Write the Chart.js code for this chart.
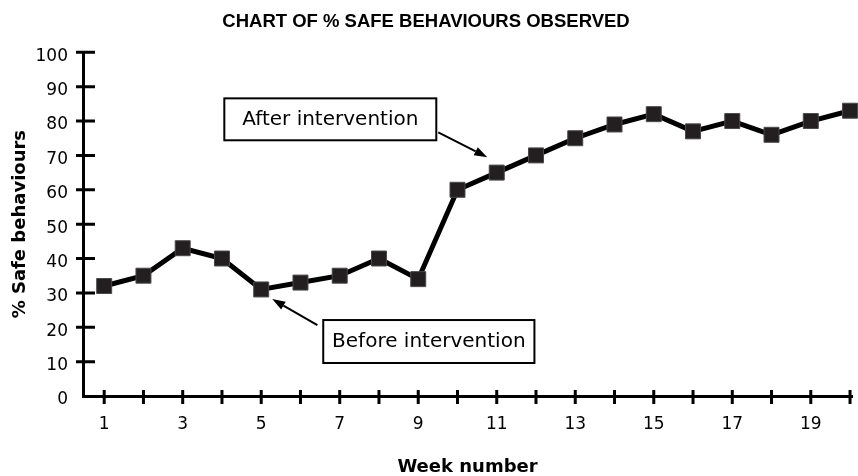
<!DOCTYPE html>
<html>
<head>
<meta charset="utf-8">
<title>Safe behaviours observed</title>
<script src="https://cdn.jsdelivr.net/npm/chart.js@4.4.0/dist/chart.umd.min.js"></script>
<style>
  html, body { margin: 0; padding: 0; background: #fff; }
  #wrap { width: 858px; height: 476px; position: relative; }
</style>
</head>
<body>
<div id="wrap"><canvas id="safetyChart"></canvas></div>
<script>
// Weekly observations
const weeks = [1, 2, 3, 4, 5, 6, 7, 8, 9, 10, 11, 12, 13, 14, 15, 16, 17, 18, 19, 20];
const safePct = [32, 35, 43, 40, 31, 33, 35, 40, 34, 60, 65, 70, 75, 79, 82, 77, 80, 76, 80, 83];
const yTickValues = [0, 10, 20, 30, 40, 50, 60, 70, 80, 90, 100];
const labelledWeeks = [1, 3, 5, 7, 9, 11, 13, 15, 17, 19];

// Callout boxes, given in data units (week, %)
const callouts = [
    { text: 'After intervention', box: [4.06, 86.6, 9.46, 74.4], from: [9.51, 76.7], to: [10.76, 69.5] },
    { text: 'Before intervention', box: [6.58, 22.1, 11.96, 9.6], from: [6.43, 20.6], to: [5.28, 28.2] }
];

const tickFont = { family: '"DejaVu Sans", sans-serif', size: 17 };
const boldAxisFont = { family: '"DejaVu Sans", sans-serif', size: 18, weight: 'bold', lineHeight: 1 };

// Tick marks that cross the axis lines
const crossTicks = {
    id: 'crossTicks',
    afterDraw(chart) {
        const { ctx, scales: { x, y } } = chart;
        ctx.save();
        ctx.strokeStyle = '#000';
        ctx.lineWidth = 3;
        ctx.beginPath();
        yTickValues.forEach(v => {
            if (v === 0) return;
            const py = y.getPixelForValue(v);
            ctx.moveTo(x.left - 7, py);
            ctx.lineTo(x.left + 12, py);
        });
        weeks.forEach(w => {
            const px = x.getPixelForValue(w);
            ctx.moveTo(px, y.bottom - 6);
            ctx.lineTo(px, y.bottom + 8);
        });
        ctx.stroke();
        ctx.restore();
    }
};

// Labelled boxes with arrows pointing at the series
const calloutPlugin = {
    id: 'callouts',
    afterDatasetsDraw(chart) {
        const { ctx, scales: { x, y } } = chart;
        ctx.save();
        callouts.forEach(c => {
            const x0 = x.getPixelForValue(c.box[0]);
            const y0 = y.getPixelForValue(c.box[1]);
            const x1 = x.getPixelForValue(c.box[2]);
            const y1 = y.getPixelForValue(c.box[3]);
            ctx.fillStyle = '#fff';
            ctx.fillRect(x0, y0, x1 - x0, y1 - y0);
            ctx.strokeStyle = '#000';
            ctx.lineWidth = 2;
            ctx.strokeRect(x0, y0, x1 - x0, y1 - y0);
            ctx.fillStyle = '#000';
            ctx.font = '20px "DejaVu Sans", sans-serif';
            ctx.textAlign = 'center';
            ctx.textBaseline = 'middle';
            ctx.fillText(c.text, (x0 + x1) / 2, (y0 + y1) / 2);

            // arrow shaft and head
            const fx = x.getPixelForValue(c.from[0]);
            const fy = y.getPixelForValue(c.from[1]);
            const tx = x.getPixelForValue(c.to[0]);
            const ty = y.getPixelForValue(c.to[1]);
            const ang = Math.atan2(ty - fy, tx - fx);
            const headLen = 13, headW = 4.5;
            ctx.lineWidth = 2;
            ctx.beginPath();
            ctx.moveTo(fx, fy);
            ctx.lineTo(tx - Math.cos(ang) * headLen, ty - Math.sin(ang) * headLen);
            ctx.stroke();
            ctx.beginPath();
            ctx.moveTo(tx, ty);
            ctx.lineTo(tx - Math.cos(ang) * headLen - Math.sin(ang) * headW,
                       ty - Math.sin(ang) * headLen + Math.cos(ang) * headW);
            ctx.lineTo(tx - Math.cos(ang) * headLen + Math.sin(ang) * headW,
                       ty - Math.sin(ang) * headLen - Math.cos(ang) * headW);
            ctx.closePath();
            ctx.fill();
        });
        ctx.restore();
    }
};

const ctx = document.getElementById('safetyChart').getContext('2d');
const safetyChart = new Chart(ctx, {
    type: 'line',
    data: {
        datasets: [{
            label: '% Safe behaviours',
            data: weeks.map((w, i) => ({ x: w, y: safePct[i] })),
            borderColor: '#000',
            borderWidth: 5,
            backgroundColor: '#231f20',
            pointStyle: 'rect',
            pointRadius: 10.6,
            pointBackgroundColor: '#231f20',
            pointBorderColor: '#4a4a4a',
            pointBorderWidth: 1,
            tension: 0,
            clip: false
        }]
    },
    options: {
        responsive: true,
        maintainAspectRatio: false,
        animation: false,
        layout: { autoPadding: false, padding: { left: 0, right: 6, top: 0, bottom: 0 } },
        scales: {
            x: {
                type: 'linear',
                min: 0.46,
                max: 20.05,
                afterBuildTicks: scale => {
                    scale.ticks = weeks.map(w => ({ value: w }));
                },
                afterFit: scale => {
                    scale.height = 80;
                    scale.paddingLeft = 0;
                    scale.paddingRight = 0;
                },
                ticks: {
                    autoSkip: false,
                    maxRotation: 0,
                    padding: 18,
                    color: '#000',
                    font: tickFont,
                    callback: v => labelledWeeks.includes(v) ? String(v) : ''
                },
                grid: { drawOnChartArea: false, drawTicks: false },
                border: { display: true, color: '#000', width: 3 },
                title: {
                    display: true,
                    text: 'Week number',
                    color: '#000',
                    font: boldAxisFont,
                    padding: { top: 0, bottom: 0 }
                }
            },
            y: {
                min: 0,
                max: 100,
                afterBuildTicks: scale => {
                    scale.ticks = yTickValues.map(v => ({ value: v }));
                },
                afterFit: scale => {
                    scale.width = 83;
                    scale.paddingTop = 0;
                    scale.paddingBottom = 0;
                },
                ticks: {
                    padding: 15,
                    color: '#000',
                    // empty first line nudges each number a little below its tick
                    font: { family: '"DejaVu Sans", sans-serif', size: 17, lineHeight: 8 / 17 },
                    callback: v => ['', String(v)]
                },
                grid: { drawOnChartArea: false, drawTicks: false },
                border: { display: true, color: '#000', width: 3 },
                title: {
                    display: true,
                    text: '% Safe behaviours',
                    color: '#000',
                    font: boldAxisFont,
                    padding: { top: 11, bottom: 0 }
                }
            }
        },
        plugins: {
            legend: { display: false },
            tooltip: { enabled: false },
            title: {
                display: true,
                text: 'CHART OF % SAFE BEHAVIOURS OBSERVED',
                color: '#000',
                font: { family: '"Liberation Sans", Arial, sans-serif', size: 18.5, weight: 'bold', lineHeight: 1.2 },
                padding: { top: 11, bottom: 19.1 }
            }
        }
    },
    plugins: [crossTicks, calloutPlugin]
});
</script>
</body>
</html>
